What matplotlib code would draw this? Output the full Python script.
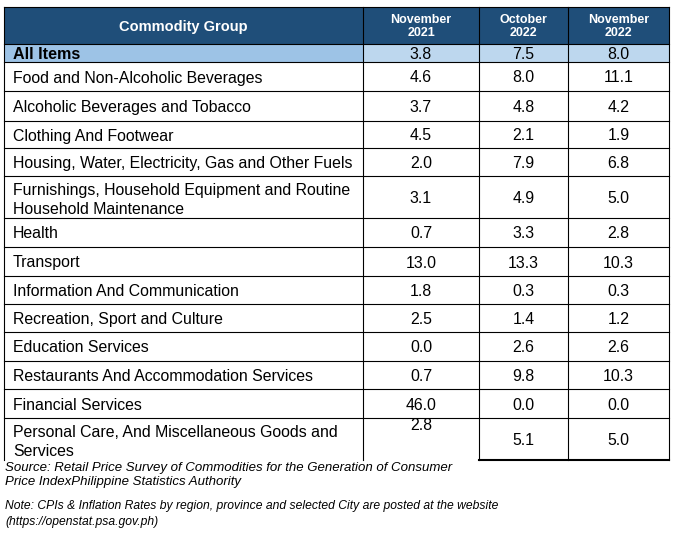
import matplotlib
matplotlib.use("Agg")
import matplotlib.pyplot as plt
from matplotlib.patches import Rectangle

plt.rcParams['font.family'] = ['Liberation Sans', 'DejaVu Sans']

header_label = "Commodity Group"
periods = ["November\n2021", "October\n2022", "November\n2022"]
categories = [
    "All Items",
    "Food and Non-Alcoholic Beverages",
    "Alcoholic Beverages and Tobacco",
    "Clothing And Footwear",
    "Housing, Water, Electricity, Gas and Other Fuels",
    "Furnishings, Household Equipment and Routine\nHousehold Maintenance",
    "Health",
    "Transport",
    "Information And Communication",
    "Recreation, Sport and Culture",
    "Education Services",
    "Restaurants And Accommodation Services",
    "Financial Services",
    "Personal Care, And Miscellaneous Goods and\nServices",
]
nov2021 = [3.8, 4.6, 3.7, 4.5, 2.0, 3.1, 0.7, 13.0, 1.8, 2.5, 0.0, 0.7, 46.0, 2.8]
oct2022 = [7.5, 8.0, 4.8, 2.1, 7.9, 4.9, 3.3, 13.3, 0.3, 1.4, 2.6, 9.8, 0.0, 5.1]
nov2022 = [8.0, 11.1, 4.2, 1.9, 6.8, 5.0, 2.8, 10.3, 0.3, 1.2, 2.6, 10.3, 0.0, 5.0]
source_text = ("Source: Retail Price Survey of Commodities for the Generation of Consumer\n"
               "Price IndexPhilippine Statistics Authority")
note_text = ("Note: CPIs & Inflation Rates by region, province and selected City are posted at the website\n"
             "(https://openstat.psa.gov.ph)")

W, H = 676, 539
fig = plt.figure(figsize=(W / 100, H / 100), dpi=100)
ax = fig.add_axes([0, 0, 1, 1])
ax.set_xlim(0, W)
ax.set_ylim(H, 0)
ax.axis('off')

col_x = [4, 363, 479, 568, 669]
row_y = [7, 44, 62, 91, 121, 148, 176, 218, 247, 276, 304, 332, 361, 389, 418, 460]

HEAD = '#1F4E79'
LBL_ALL = '#9DC3E6'
VAL_ALL = '#BDD7EE'
lw = 0.8

# header
ax.add_patch(Rectangle((col_x[0], row_y[0]), col_x[-1] - col_x[0], row_y[1] - row_y[0],
                       facecolor=HEAD, edgecolor='none', zorder=1))
ax.text((col_x[0] + col_x[1]) / 2, (row_y[0] + row_y[1]) / 2 + 1, header_label,
        color='white', fontsize=10.5, fontweight='bold', ha='center', va='center', zorder=3)
for j, p in enumerate(periods):
    ax.text((col_x[j + 1] + col_x[j + 2]) / 2, (row_y[0] + row_y[1]) / 2 + 1, p,
            color='white', fontsize=9, fontweight='bold', ha='center', va='center',
            linespacing=1.05, zorder=3)

# All items row fill
ax.add_patch(Rectangle((col_x[0], row_y[1]), col_x[1] - col_x[0], row_y[2] - row_y[1],
                       facecolor=LBL_ALL, edgecolor='none', zorder=1))
ax.add_patch(Rectangle((col_x[1], row_y[1]), col_x[-1] - col_x[1], row_y[2] - row_y[1],
                       facecolor=VAL_ALL, edgecolor='none', zorder=1))

series = [nov2021, oct2022, nov2022]
n = len(categories)
for i, cat in enumerate(categories):
    y0, y1 = row_y[i + 1], row_y[i + 2]
    yc = (y0 + y1) / 2 + 1.5
    bold = (i == 0)
    ty = yc + (1.5 if '\n' in cat else 0)
    ax.text(col_x[0] + 9, ty, cat, fontsize=11.6 if bold else 11.4,
            fontweight='bold' if bold else 'normal', ha='left', va='center',
            linespacing=1.3, zorder=3)
    for j, s in enumerate(series):
        xc = (col_x[j + 1] + col_x[j + 2]) / 2
        yy = yc
        if i == n - 1 and j == 0:
            yy = y0 + 8
        ax.text(xc, yy, f"{s[i]:.1f}", fontsize=11.4, ha='center', va='center', zorder=3)

# grid lines
for k, y in enumerate(row_y[:-1]):
    ax.plot([col_x[0], col_x[-1]], [y, y], color='black', lw=lw, zorder=4)
# bottom line only under last two columns, thicker
ax.plot([col_x[2], col_x[-1]], [row_y[-1], row_y[-1]], color='black', lw=1.5, zorder=4)
for x in col_x:
    ax.plot([x, x], [row_y[0], row_y[-1]], color='black', lw=lw, zorder=4)

ax.text(5, 462, source_text, fontsize=9.55, fontstyle='italic', ha='left', va='top',
        linespacing=1.2)
ax.text(5, 500, note_text, fontsize=8.7, fontstyle='italic', ha='left', va='top',
        linespacing=1.4)

fig.savefig('out.png', dpi=100)
